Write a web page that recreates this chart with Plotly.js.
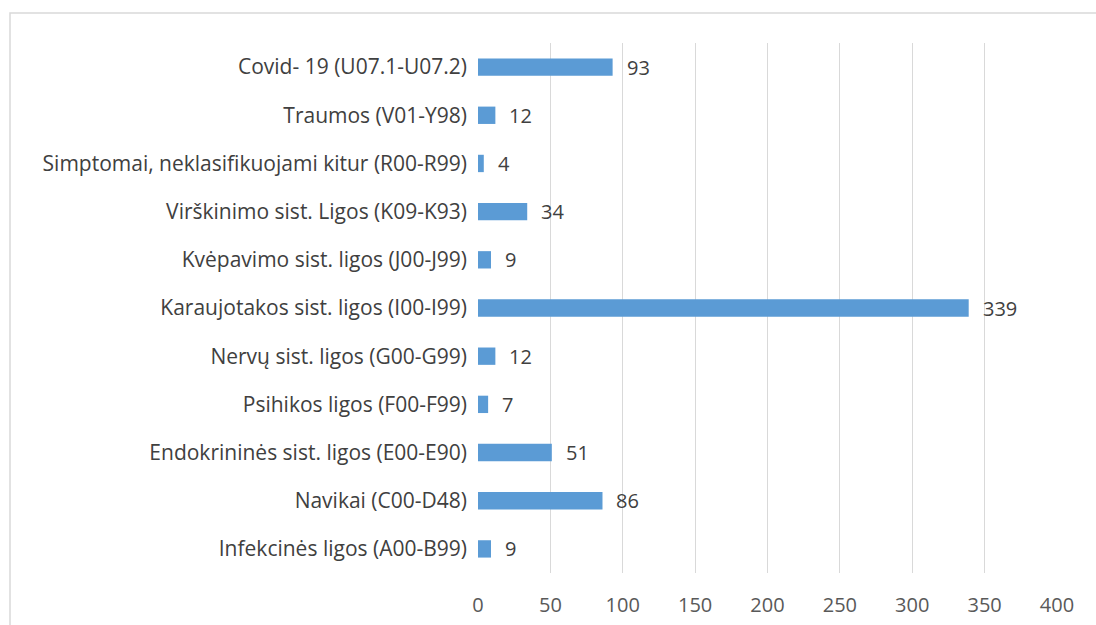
<!DOCTYPE html>
<html><head><meta charset="utf-8">
<script src="https://cdn.plot.ly/plotly-3.0.1.min.js"></script>
<style>html,body{margin:0;padding:0;background:#fff;}#chart{width:1096px;height:625px;}</style>
</head><body><div id="chart"></div>
<script>
const categories = [
  "Infekcinės ligos (A00-B99)",
  "Navikai (C00-D48)",
  "Endokrininės sist. ligos (E00-E90)",
  "Psihikos ligos (F00-F99)",
  "Nervų sist. ligos (G00-G99)",
  "Karaujotakos sist. ligos (I00-I99)",
  "Kvėpavimo sist. ligos (J00-J99)",
  "Virškinimo sist. Ligos (K09-K93)",
  "Simptomai, neklasifikuojami kitur (R00-R99)",
  "Traumos (V01-Y98)",
  "Covid- 19 (U07.1-U07.2)"
];
const values = [9, 86, 51, 7, 12, 339, 9, 34, 4, 12, 93];
const xTicks = [0, 50, 100, 150, 200, 250, 300, 350, 400];

const FONT = "Open Sans, Noto Sans, sans-serif";
const trace = {
  type: 'bar', orientation: 'h',
  y: categories, x: values,
  width: 0.36,
  marker: {color: '#5b9bd5', line: {width: 0}},
  hoverinfo: 'none'
};
const annotations = values.map((v, i) => ({
  x: v, y: categories[i], xref: 'x', yref: 'y',
  text: String(v), showarrow: false, xanchor: 'left', yanchor: 'middle',
  xshift: 12, yshift: 0,
  font: {family: FONT, size: 20, color: '#404040'}
}));
const W = 1096, H = 625, L = 478, R = 39, T = 43, B = 52;
const pw = W - L - R, ph = H - T - B;
const bx = (10 - L) / pw, by = (H - B - 13) / ph;
const layout = {
  width: W, height: H,
  margin: {l: L, r: R, t: T, b: B, pad: 0},
  paper_bgcolor: '#fff', plot_bgcolor: '#fff',
  showlegend: false,
  xaxis: {
    range: [0, 400], tickvals: xTicks, ticktext: xTicks.map(String),
    showgrid: true, gridcolor: '#d9d9d9', gridwidth: 1,
    zeroline: false, showline: false, ticks: '',
    tickfont: {family: FONT, size: 20, color: '#595959'},
    ticklabelstandoff: 18, fixedrange: true
  },
  yaxis: {
    type: 'category', categoryorder: 'array', categoryarray: categories,
    showgrid: false, zeroline: false, showline: false, ticks: '',
    tickfont: {family: FONT, size: 21, color: '#404040'},
    ticklabelstandoff: 10, automargin: false, fixedrange: true
  },
  annotations: annotations,
  shapes: [{
    type: 'path', xref: 'paper', yref: 'paper',
    path: `M ${bx} -0.3 L ${bx} ${by} L 1.3 ${by}`,
    line: {color: '#d9d9d9', width: 1.5}
  }]
};
Plotly.newPlot('chart', [trace], layout, {displayModeBar: false, staticPlot: true});
</script></body></html>
